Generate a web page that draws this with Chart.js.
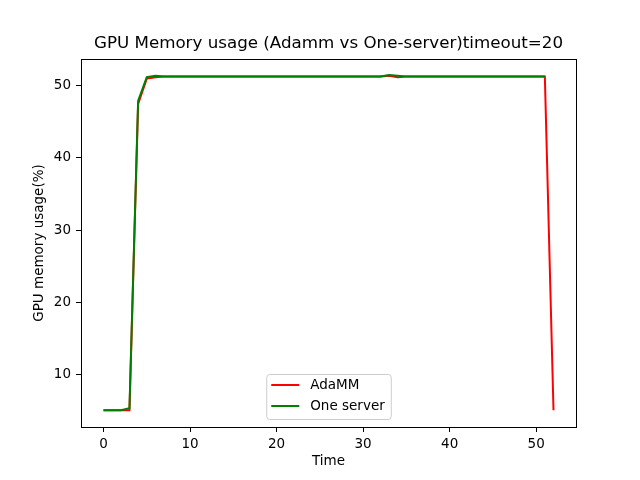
<!DOCTYPE html>
<html>
<head>
<meta charset="utf-8">
<script src="https://cdn.jsdelivr.net/npm/chart.js@4/dist/chart.umd.min.js"></script>
<style>
  html, body { margin: 0; padding: 0; background: #fff; }
  #wrap { width: 640px; height: 480px; }
</style>
</head>
<body>
<div id="wrap"><canvas id="gpu-chart" width="640" height="480"></canvas></div>
<script>
// valores
var adammUsage = [
    5.0, 5.0, 5.0, 5.0, 47.5, 51.0, 51.2, 51.3, 51.3, 51.3,
    51.3, 51.3, 51.3, 51.3, 51.3, 51.3, 51.3, 51.3, 51.3, 51.3,
    51.3, 51.3, 51.3, 51.3, 51.3, 51.3, 51.3, 51.3, 51.3, 51.3,
    51.3, 51.3, 51.3, 51.4, 51.2, 51.3, 51.3, 51.3, 51.3, 51.3,
    51.3, 51.3, 51.3, 51.3, 51.3, 51.3, 51.3, 51.3, 51.3, 51.3,
    51.3, 51.3, 5.0
];
var oneServerUsage = [
    5.0, 5.0, 5.0, 5.3, 47.9, 51.2, 51.4, 51.3, 51.3, 51.3,
    51.3, 51.3, 51.3, 51.3, 51.3, 51.3, 51.3, 51.3, 51.3, 51.3,
    51.3, 51.3, 51.3, 51.3, 51.3, 51.3, 51.3, 51.3, 51.3, 51.3,
    51.3, 51.3, 51.3, 51.5, 51.4, 51.3, 51.3, 51.3, 51.3, 51.3,
    51.3, 51.3, 51.3, 51.3, 51.3, 51.3, 51.3, 51.3, 51.3, 51.3,
    51.3, 51.3
];
var xTicks = [0, 10, 20, 30, 40, 50];
var yTicks = [10, 20, 30, 40, 50];
var chartTitle = "GPU Memory usage (Adamm vs One-server)timeout=20";

function toPoints(arr) {
    return arr.map(function (v, i) { return { x: i, y: v }; });
}

var FONT = "'DejaVu Sans', sans-serif";
Chart.defaults.font.family = FONT;
Chart.defaults.color = "#000";

// título, moldura e legenda desenhados a mão
var framePlugin = {
    id: "frame",
    afterDatasetsDraw: function (chart) {
        var ctx = chart.ctx, a = chart.chartArea;
        ctx.save();
        ctx.strokeStyle = "#000";
        ctx.lineWidth = 1;
        ctx.strokeRect(Math.round(a.left) + 0.5, Math.round(a.top) + 0.5,
            Math.round(a.right - a.left), Math.round(a.bottom - a.top));

        // título centrado na área do gráfico
        ctx.fillStyle = "#000";
        ctx.font = "16.7px " + FONT;
        ctx.textAlign = "center";
        ctx.textBaseline = "middle";
        ctx.fillText(chartTitle, (a.left + a.right) / 2, a.top - 15);

        // legenda
        var items = chart.data.datasets;
        ctx.font = "13.5px " + FONT;
        var maxW = 0;
        items.forEach(function (d) { maxW = Math.max(maxW, ctx.measureText(d.label).width); });
        var rowH = 21, boxW = 44 + maxW + 6, boxH = items.length * rowH + 3;
        var bx = (a.left + a.right) / 2 - boxW / 2;
        var by = a.bottom - 8 - boxH;
        ctx.fillStyle = "rgba(255,255,255,0.8)";
        ctx.strokeStyle = "#cccccc";
        ctx.beginPath();
        ctx.roundRect(bx + 0.5, by + 0.5, boxW, boxH, 3);
        ctx.fill();
        ctx.stroke();
        items.forEach(function (d, i) {
            var y = by + 11 + i * rowH;
            ctx.strokeStyle = d.borderColor;
            ctx.lineWidth = 2;
            ctx.beginPath();
            ctx.moveTo(bx + 5, y);
            ctx.lineTo(bx + 33, y);
            ctx.stroke();
            ctx.fillStyle = "#000";
            ctx.textBaseline = "middle";
            ctx.textAlign = "left";
            ctx.fillText(d.label, bx + 44, y);
        });
        ctx.restore();
    }
};

var ctx = document.getElementById("gpu-chart").getContext("2d");
new Chart(ctx, {
    type: "line",
    data: {
        datasets: [
            {
                label: "AdaMM",
                data: toPoints(adammUsage),
                borderColor: "#ff0000",
                borderWidth: 2,
                pointRadius: 0,
                order: 2
            },
            {
                label: "One server",
                data: toPoints(oneServerUsage),
                borderColor: "#008000",
                borderWidth: 2,
                pointRadius: 0,
                order: 1
            }
        ]
    },
    options: {
        responsive: false,
        animation: false,
        layout: { padding: { left: 0, right: 64, top: 59, bottom: 0 } },
        plugins: {
            legend: { display: false },
            tooltip: { enabled: false },
            title: { display: false }
        },
        scales: {
            x: {
                type: "linear",
                min: -2.6,
                max: 54.6,
                afterBuildTicks: function (s) { s.ticks = xTicks.map(function (v) { return { value: v }; }); },
                afterFit: function (s) { s.height = 53; },
                ticks: { font: { size: 13.5 }, padding: 4, maxRotation: 0 },
                grid: { drawOnChartArea: false, drawTicks: true, tickLength: 5, color: "#000" },
                border: { display: true, color: "#000" },
                title: { display: true, text: "Time", font: { size: 13.5 }, padding: { top: 0, bottom: 10 } }
            },
            y: {
                min: 2.68,
                max: 53.72,
                afterBuildTicks: function (s) { s.ticks = yTicks.map(function (v) { return { value: v }; }); },
                afterFit: function (s) { s.width = 81; },
                ticks: { font: { size: 13.5 }, padding: 5 },
                grid: { drawOnChartArea: false, drawTicks: true, tickLength: 5, color: "#000" },
                border: { display: true, color: "#000" },
                title: { display: true, text: "GPU memory usage(%)", font: { size: 13.5 }, padding: { top: 31, bottom: 0 } }
            }
        }
    },
    plugins: [framePlugin]
});
</script>
</body>
</html>
